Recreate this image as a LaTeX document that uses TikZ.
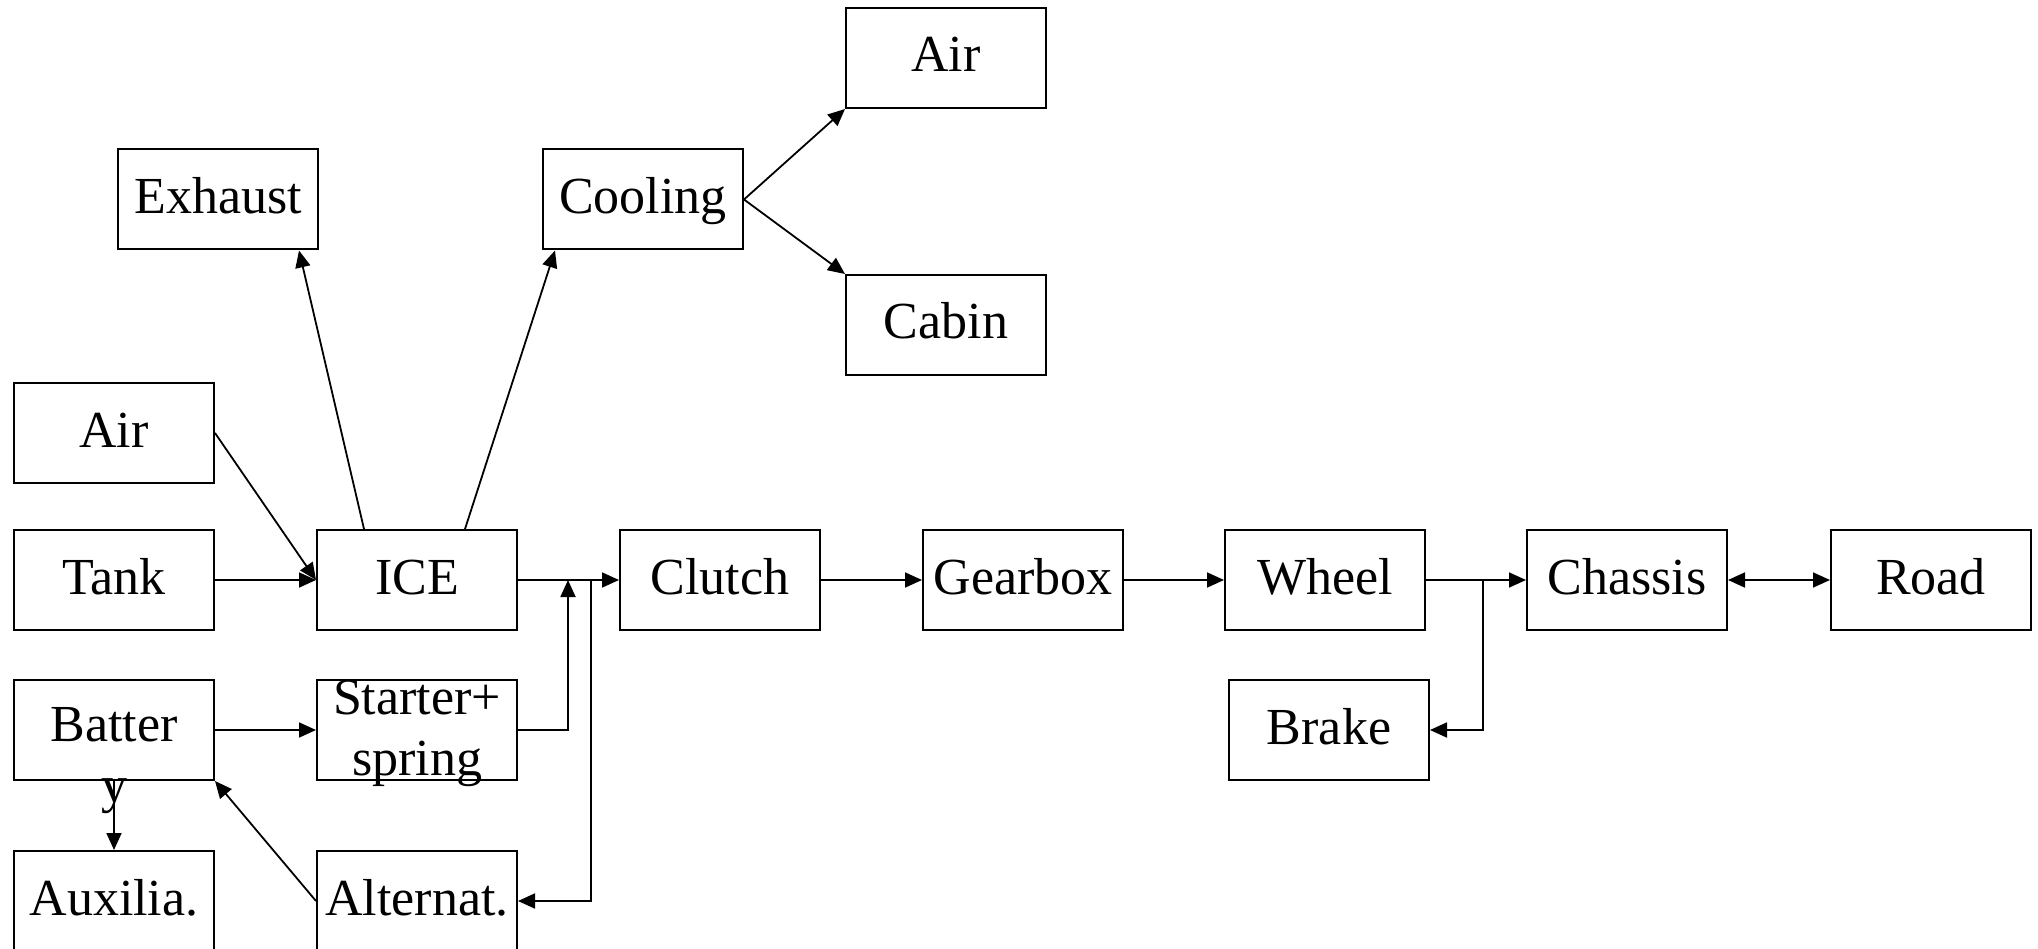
\documentclass[tikz,border=0pt]{standalone}
\usepackage{fontspec}
\setmainfont{Liberation Serif}
\usetikzlibrary{arrows.meta}
\newcommand{\bigfs}{\fontsize{52}{61}\selectfont}
\begin{document}
\begin{tikzpicture}[x=1pt,y=-1pt,
  box/.style={draw, line width=2pt, minimum width=200pt, minimum height=100pt,
    inner sep=0pt, font=\bigfs, text height=34pt, text depth=6pt},
  txt/.style={inner sep=0pt, font=\bigfs, align=center, anchor=base},
  conn/.style={line width=1.8pt, -{Triangle[length=17pt,width=15pt]}},
  conntwo/.style={line width=1.8pt, {Triangle[length=17pt,width=15pt]}-{Triangle[length=17pt,width=15pt]}}]
\useasboundingbox (0,0) rectangle (2038,949);
\clip (0,0) rectangle (2038,949);
% nodes
\node[box] (exh)  at (218,199.5) {Exhaust};
\node[box] (cool) at (643,199.5) {Cooling};
\node[box] (airT) at (946,58) {Air};
\node[box] (cab)  at (946,325) {Cabin};
\node[box] (airL) at (114,433) {Air};
\node[box] (tank) at (114,580) {Tank};
\node[box] (ice)  at (417,580) {ICE};
\node[box] (clu)  at (720,580) {Clutch};
\node[box] (gear) at (1023,580) {Gearbox};
\node[box] (whl)  at (1325,580) {Wheel};
\node[box] (chs)  at (1627,580) {Chassis};
\node[box] (road) at (1931,580) {Road};
\node[box] (bat) at (114,730) {};
\node[txt] (battxt) at (114,802) {Batter\\y};
\node[box] (st) at (417,730) {};
\node[txt] (sttxt) at (417,775) {Starter+\\spring};
\node[box] (brk)  at (1329,730) {Brake};
\node[box] (aux)  at (114,901) {Auxilia.};
\node[box] (alt)  at (417,901) {Alternat.};
% junctions
\coordinate (j1) at (568,580);
\coordinate (j2) at (591,580);
\coordinate (j3) at (1483,580);
% connectors
\draw[conn] (airL.east) -- (ice.west);
\draw[conn] (tank.east) -- (ice.west);
\draw[conn] ([xshift=-53pt]ice.north) -- ([xshift=81pt]exh.south);
\draw[conn] ([xshift=48pt]ice.north) -- ([xshift=-88pt]cool.south);
\draw[conn] (cool.east) -- (airT.south west);
\draw[conn] (cool.east) -- (cab.north west);
\draw[conn] (ice.east) -- (clu.west);
\draw[conn] (st.east) -| (j1);
\draw[conn] (j2) |- (alt.east);
\draw[conn] (alt.west) -- (bat.south east);
\draw[conn] (bat.south) -- (aux.north);
\draw[conn] (bat.east) -- (st.west);
\draw[conn] (clu.east) -- (gear.west);
\draw[conn] (gear.east) -- (whl.west);
\draw[conn] (whl.east) -- (chs.west);
\draw[conn] (j3) |- (brk.east);
\draw[conntwo] (chs.east) -- (road.west);
\end{tikzpicture}
\end{document}
